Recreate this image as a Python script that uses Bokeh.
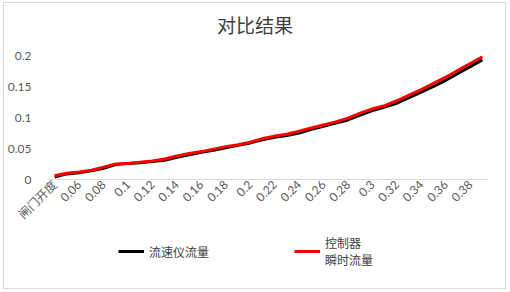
import math
from bokeh.plotting import figure
from bokeh.layouts import column
from bokeh.models import Range1d, Legend, LegendItem, FixedTicker, CustomJSTickFormatter, Div
from bokeh.embed import file_html
from bokeh.resources import INLINE

# categories (first one is the header text, then gate openings 0.05 .. 0.39)
categories = ["闸门开度"] + ["%.2f" % (v / 100) for v in range(5, 40)]
tick_labels = ["闸门开度", "0.06", "0.08", "0.1", "0.12", "0.14", "0.16", "0.18", "0.2",
               "0.22", "0.24", "0.26", "0.28", "0.3", "0.32", "0.34", "0.36", "0.38"]

meter_flow = [0.004, 0.009, 0.011, 0.014, 0.018, 0.024, 0.026, 0.027, 0.029, 0.031,
              0.036, 0.040, 0.044, 0.047, 0.051, 0.055, 0.059, 0.064, 0.068, 0.071,
              0.075, 0.081, 0.086, 0.091, 0.096, 0.104, 0.111, 0.117, 0.123, 0.132,
              0.141, 0.150, 0.160, 0.171, 0.182, 0.193]
controller_flow = [0.006, 0.010, 0.012, 0.015, 0.020, 0.025, 0.026, 0.028, 0.030, 0.033,
                   0.038, 0.042, 0.045, 0.049, 0.053, 0.056, 0.060, 0.066, 0.070, 0.073,
                   0.078, 0.083, 0.088, 0.093, 0.099, 0.107, 0.114, 0.119, 0.127, 0.136,
                   0.145, 0.155, 0.165, 0.176, 0.187, 0.198]
series_names = ["流速仪流量", "控制器\n瞬时流量"]
series_colors = ["black", "red"]
title_text = "对比结果"

FONT = "Lato, 'Noto Sans CJK SC'"
CJK = "'Noto Sans CJK SC'"

# category centres on a numeric axis (each category one unit wide)
xs = [i + 0.5 for i in range(len(categories))]

W = 501
H_TITLE = 44
H_MAIN = 187
H_LEG = 285 - H_TITLE - H_MAIN

title = Div(text=title_text, width=W, height=H_TITLE, margin=0,
            styles={"font-family": CJK, "font-size": "19px", "color": "#404040",
                    "line-height": "%dpx" % H_TITLE, "padding-left": "213px",
                    "background-color": "white", "white-space": "nowrap"})

p = figure(width=W, height=H_MAIN, output_backend="svg", toolbar_location=None,
           x_range=Range1d(0, len(categories)),
           y_range=Range1d(0, 0.2),
           min_border_left=43, min_border_right=17, min_border_top=8,
           min_border_bottom=H_MAIN - 132)

for ys, c in zip([meter_flow, controller_flow], series_colors):
    p.line(xs, ys, line_color=c, line_width=3)

p.xgrid.grid_line_color = None
p.ygrid.grid_line_color = None
p.outline_line_color = None
p.background_fill_color = "white"
p.border_fill_color = "white"

xa = p.xaxis[0]
xa.axis_line_color = "#d9d9d9"
xa.major_tick_line_color = None
xa.minor_tick_line_color = None
xa.major_tick_out = 0
xa.major_label_standoff = 3
xa.ticker = FixedTicker(ticks=[xs[i] for i in range(0, len(xs) - 1, 2)])
xa.formatter = CustomJSTickFormatter(args=dict(labels=tick_labels),
                                     code="return labels[Math.round((tick - 0.5) / 2)] || '';")
xa.major_label_orientation = math.pi / 4
xa.major_label_text_font = FONT
xa.major_label_text_font_size = "12px"
xa.major_label_text_color = "#595959"

ya = p.yaxis[0]
ya.axis_line_color = None
ya.major_tick_line_color = None
ya.minor_tick_line_color = None
ya.ticker = FixedTicker(ticks=[0, 0.05, 0.1, 0.15, 0.2])
ya.formatter = CustomJSTickFormatter(code="return tick.toFixed(2).replace(/\\.?0+$/, '') || '0';")
ya.major_label_text_font = FONT
ya.major_label_text_font_size = "12px"
ya.major_label_text_color = "#595959"
ya.major_label_standoff = 11

# legend strip below the chart
pl = figure(width=W, height=H_LEG, output_backend="svg", toolbar_location=None,
            x_range=Range1d(1000, 1001), y_range=Range1d(0, 1),
            x_axis_location=None, y_axis_location=None,
            min_border_left=0, min_border_right=0, min_border_top=0, min_border_bottom=0)
pl.xgrid.grid_line_color = None
pl.ygrid.grid_line_color = None
pl.outline_line_color = None
pl.border_fill_color = "white"
items = []
for ys, c, name in zip([meter_flow, controller_flow], series_colors, series_names):
    r = pl.line(xs, ys, line_color=c, line_width=3)
    items.append(LegendItem(label=name, renderers=[r]))
legend = Legend(items=items, orientation="horizontal", location=(70, 20),
                glyph_width=26, label_standoff=5, spacing=85, padding=0, margin=0,
                border_line_color=None, background_fill_alpha=0,
                label_text_font=CJK, label_text_font_size="12px", label_text_color="#404040")
pl.add_layout(legend, "center")

layout = column(title, p, pl, spacing=0)
layout.margin = (2, 0, 0, 3)
layout.styles = {"border": "1px solid #d9d9d9", "background-color": "white"}

open("out.html", "w").write(file_html(layout, INLINE))
